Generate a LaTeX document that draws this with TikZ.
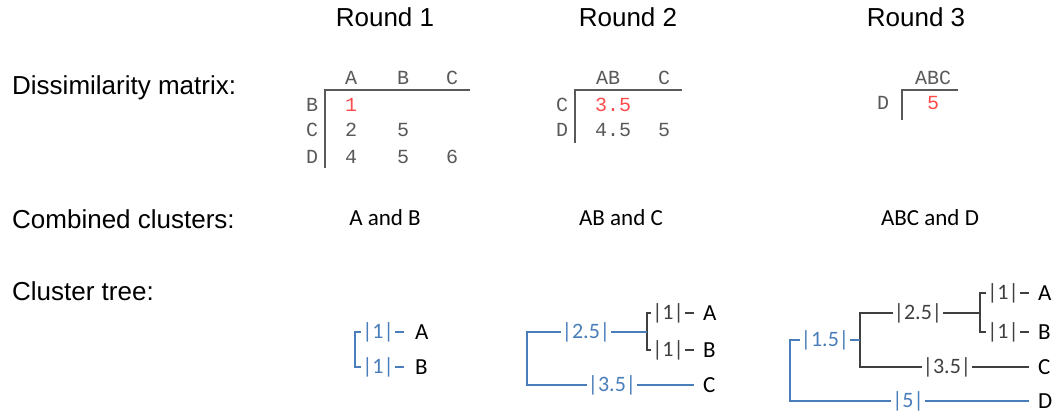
\documentclass[tikz,border=0pt]{standalone}
\usepackage{fontspec}
\setmainfont{Liberation Sans}
\newfontfamily\calib{Carlito}
\newfontfamily\mono{Liberation Mono}
\definecolor{tblue}{HTML}{4A7EBB}
\definecolor{tdark}{HTML}{404040}
\definecolor{tgray}{HTML}{595959}
\definecolor{tred}{HTML}{FF4B4B}
\tikzset{
  title/.style={font=\fontsize{26}{30}\selectfont, text=black, inner sep=0pt, anchor=base},
  head/.style={title, anchor=base west},
  mx/.style={font=\mono\fontsize{20}{24}\selectfont, text=tgray, inner sep=0pt},
  mxr/.style={mx, text=tred},
  mline/.style={draw=tgray, line width=1.2pt},
  comb/.style={font=\calib\fontsize{23}{27}\selectfont, text=black, inner sep=0pt, anchor=base},
  leaf/.style={font=\calib\fontsize{23}{27}\selectfont, text=black, inner sep=0pt, anchor=west},
  blab/.style={font=\calib\fontsize{22}{26}\selectfont, fill=white, inner sep=1pt, text=tblue},
  dlab/.style={blab, text=tdark},
  bline/.style={draw=tblue, line width=2pt},
  dline/.style={draw=tdark, line width=2pt},
}
\begin{document}
\begin{tikzpicture}[x=1pt,y=-1pt]
\useasboundingbox (0,0) rectangle (1059,414);
% titles
\node[title] (r1) at (385,27) {Round 1};
\node[title] (r2) at (628,27) {Round 2};
\node[title] (r3) at (916,27) {Round 3};
\node[head] (h1) at (12,95) {Dissimilarity matrix:};
\node[head] (h2) at (12,228) {Combined clusters:};
\node[head] (h3) at (12,300) {Cluster tree:};

% matrix 1
\node[mx] (m1cA) at (351,78) {A};
\node[mx] (m1cB) at (403,78) {B};
\node[mx] (m1cC) at (452,78) {C};
\node[mx] (m1rB) at (312,105) {B};
\node[mx] (m1rC) at (312,130) {C};
\node[mx] (m1rD) at (312,157) {D};
\node[mxr] (m1BA) at (351,105) {1};
\node[mx] (m1CA) at (351,130) {2};
\node[mx] (m1CB) at (403,130) {5};
\node[mx] (m1DA) at (351,157) {4};
\node[mx] (m1DB) at (403,157) {5};
\node[mx] (m1DC) at (452,157) {6};
\coordinate (m1o) at (325,90);
\coordinate (m1r) at (470,90);
\coordinate (m1b) at (325,168);
\draw[mline] (m1r) -- (m1o) -- (m1b);

% matrix 2
\node[mx] (m2cAB) at (608,78) {AB};
\node[mx] (m2cC) at (664,78) {C};
\node[mx] (m2rC) at (562,105) {C};
\node[mx] (m2rD) at (562,130) {D};
\node[mxr] (m2CAB) at (613,105) {3.5};
\node[mx] (m2DAB) at (613,130) {4.5};
\node[mx] (m2DC) at (664,130) {5};
\coordinate (m2o) at (575,90);
\coordinate (m2r) at (682,90);
\coordinate (m2b) at (575,143);
\draw[mline] (m2r) -- (m2o) -- (m2b);

% matrix 3
\node[mx] (m3cABC) at (933,78) {ABC};
\node[mx] (m3rD) at (883,103) {D};
\node[mxr] (m3DABC) at (933,103) {5};
\coordinate (m3o) at (902,90);
\coordinate (m3r) at (958,90);
\coordinate (m3b) at (902,120);
\draw[mline] (m3r) -- (m3o) -- (m3b);

% combined
\node[comb] (c1) at (385,225) {A and B};
\node[comb] (c2) at (621,225) {AB and C};
\node[comb] (c3) at (930,225) {ABC and D};

% tree 1
\node[leaf] (t1A) at (415,332) {A};
\node[leaf] (t1B) at (415,367) {B};
\coordinate (t1a) at (355,332);
\coordinate (t1b) at (355,367);
\coordinate (t1ae) at (404,332);
\coordinate (t1be) at (404,367);
\draw[bline] (t1ae) -- (t1a) -- (t1b) -- (t1be);
\node[blab] (t1l1) at (378,332) {|1|};
\node[blab] (t1l2) at (378,367) {|1|};

% tree 2
\node[leaf] (t2A) at (703,313) {A};
\node[leaf] (t2B) at (703,350) {B};
\node[leaf] (t2C) at (703,385) {C};
\coordinate (t2a) at (647,313);
\coordinate (t2b) at (647,350);
\coordinate (t2m) at (647,332);
\coordinate (t2ae) at (694,313);
\coordinate (t2be) at (694,350);
\coordinate (t2o1) at (527,332);
\coordinate (t2o2) at (527,385);
\coordinate (t2ce) at (694,385);
\draw[dline] (t2ae) -- (t2a) -- (t2b) -- (t2be);
\draw[bline] (t2m) -- (t2o1) -- (t2o2) -- (t2ce);
\node[dlab] (t2l1) at (668,313) {|1|};
\node[dlab] (t2l2) at (668,350) {|1|};
\node[blab] (t2l3) at (586,332) {|2.5|};
\node[blab] (t2l4) at (612,385) {|3.5|};

% tree 3
\node[leaf] (t3A) at (1038,293) {A};
\node[leaf] (t3B) at (1038,332) {B};
\node[leaf] (t3C) at (1038,367) {C};
\node[leaf] (t3D) at (1038,401) {D};
\coordinate (t3a) at (980,293);
\coordinate (t3b) at (980,332);
\coordinate (t3m) at (980,313);
\coordinate (t3ae) at (1029,293);
\coordinate (t3be) at (1029,332);
\coordinate (t3p1) at (860,313);
\coordinate (t3p2) at (860,367);
\coordinate (t3pm) at (860,340);
\coordinate (t3ce) at (1029,367);
\coordinate (t3o1) at (790,340);
\coordinate (t3o2) at (790,401);
\coordinate (t3de) at (1029,401);
\draw[dline] (t3ae) -- (t3a) -- (t3b) -- (t3be);
\draw[dline] (t3m) -- (t3p1) -- (t3p2) -- (t3ce);
\draw[bline] (t3pm) -- (t3o1) -- (t3o2) -- (t3de);
\node[dlab] (t3l1) at (1003,293) {|1|};
\node[dlab] (t3l2) at (1003,332) {|1|};
\node[dlab] (t3l3) at (918,313) {|2.5|};
\node[dlab] (t3l4) at (947,367) {|3.5|};
\node[blab] (t3l5) at (825,340) {|1.5|};
\node[blab] (t3l6) at (908,401) {|5|};
\end{tikzpicture}
\end{document}
